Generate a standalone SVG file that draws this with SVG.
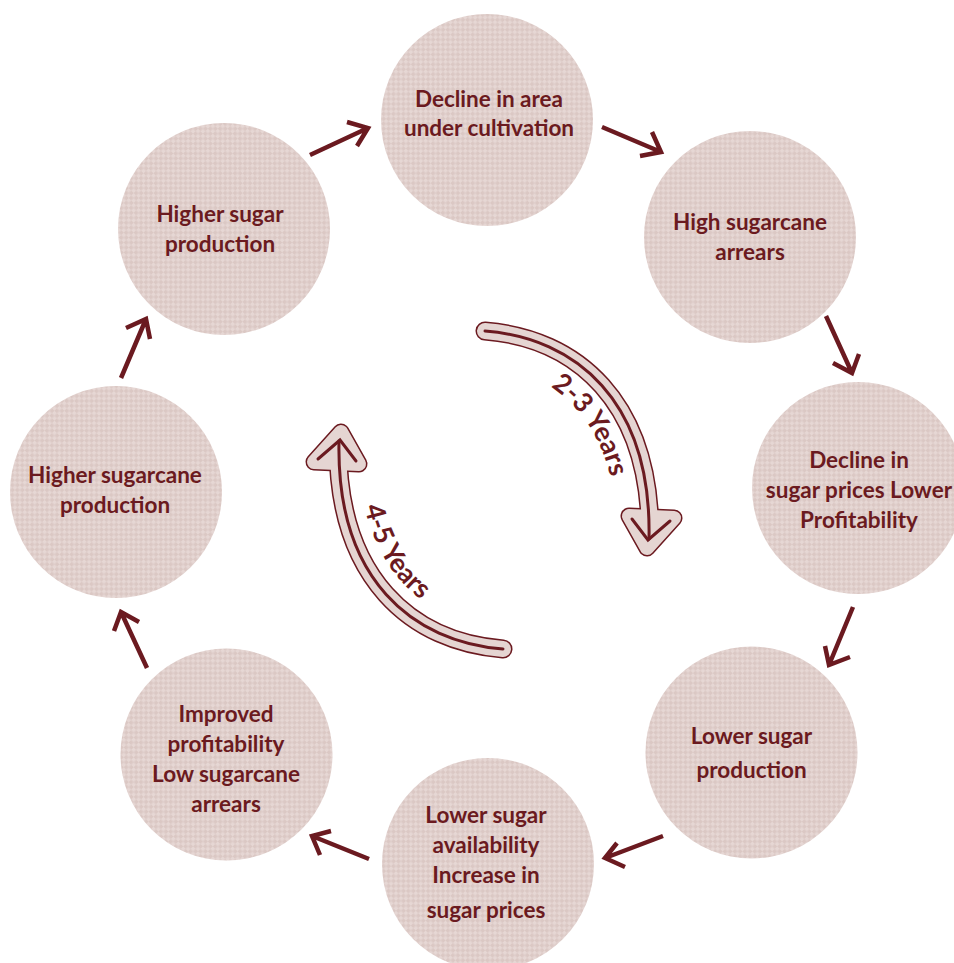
<svg xmlns="http://www.w3.org/2000/svg" xmlns:xlink="http://www.w3.org/1999/xlink" width="954" height="963" viewBox="0 0 954 963">
<style>
.node circle{fill:url(#checks);}
.lbl{font-family:Lato,"Liberation Sans",sans-serif;font-weight:700;font-size:22.5px;fill:#6b1a20;text-anchor:middle;}
.conn{fill:none;stroke:#6b1a20;stroke-width:4.5;stroke-linejoin:miter;stroke-linecap:butt;}
.band-o{fill:none;stroke:#6b1a20;stroke-width:19;stroke-linecap:round;}
.band-f{fill:none;stroke:#e5d5d2;stroke-width:16;stroke-linecap:round;}
.head-o{fill:#6b1a20;stroke:#6b1a20;stroke-width:17;stroke-linejoin:round;}
.head-f{fill:#e5d5d2;stroke:#e5d5d2;stroke-width:14;stroke-linejoin:round;}
.core{fill:none;stroke:#6b1a20;stroke-width:3;stroke-linecap:round;stroke-linejoin:miter;}
.yrs{font-family:Lato,"Liberation Sans",sans-serif;font-weight:700;font-size:27px;fill:#6b1a20;}
</style>
<defs>
<pattern id="checks" width="7" height="7" patternUnits="userSpaceOnUse" patternTransform="rotate(45)">
<rect width="7" height="7" fill="#dbc8c4"/>
<rect width="3.5" height="3.5" fill="#e6d7d4"/>
<rect x="3.5" y="3.5" width="3.5" height="3.5" fill="#e6d7d4"/>
</pattern>
<path id="tp1" d="M482.4,364 C556.2,369.7 618.6,424.7 617,539.5"/>
<path id="tp2" d="M358,440.3 C356.3,565 421.5,622.7 503,629"/>
<g id="bigarrow">
<path class="band-o" d="M485,331 C575,338 652,400 650,540"/>
<path class="head-o" d="M629,516 L674,518 L647,548 Z"/>
<path class="band-f" d="M485,331 C575,338 652,400 650,540"/>
<path class="head-f" d="M629,516 L674,518 L647,548 Z"/>
<path class="core" d="M485,331 C575,338 652,400 649,539"/>
<path class="core" d="M632,519 L648,540 L670,521"/>
</g>
</defs>

<g id="n1" class="node"><circle cx="487" cy="120" r="106"/>
<text class="lbl"><tspan x="489" y="106.5">Decline in area</tspan><tspan x="489" y="136">under cultivation</tspan></text></g>
<g id="n2" class="node"><circle cx="750" cy="237" r="106"/>
<text class="lbl"><tspan x="750" y="230">High sugarcane</tspan><tspan x="750" y="260">arrears</tspan></text></g>
<g id="n3" class="node"><circle cx="858" cy="488" r="106"/>
<text class="lbl"><tspan x="859" y="468">Decline in</tspan><tspan x="859" y="498">sugar prices Lower</tspan><tspan x="859" y="528">Profitability</tspan></text></g>
<g id="n4" class="node"><circle cx="751.5" cy="752.5" r="106"/>
<text class="lbl"><tspan x="751.5" y="744">Lower sugar</tspan><tspan x="751.5" y="778">production</tspan></text></g>
<g id="n5" class="node"><circle cx="488" cy="864" r="106"/>
<text class="lbl"><tspan x="486" y="823">Lower sugar</tspan><tspan x="486" y="853">availability</tspan><tspan x="486" y="883">Increase in</tspan><tspan x="486" y="918">sugar prices</tspan></text></g>
<g id="n6" class="node"><circle cx="226.5" cy="754.5" r="106"/>
<text class="lbl"><tspan x="226" y="721.5">Improved</tspan><tspan x="226" y="752">profitability</tspan><tspan x="226" y="781.5">Low sugarcane</tspan><tspan x="226" y="811.5">arrears</tspan></text></g>
<g id="n7" class="node"><circle cx="116" cy="492" r="106"/>
<text class="lbl"><tspan x="115" y="482.5">Higher sugarcane</tspan><tspan x="115" y="512.5">production</tspan></text></g>
<g id="n8" class="node"><circle cx="224" cy="229" r="106"/>
<text class="lbl"><tspan x="220" y="222">Higher sugar</tspan><tspan x="220" y="252">production</tspan></text></g>

<g id="connectors">
<path class="conn" d="M310,155 L368,128 M347,122 L368,128 L357,146"/>
<path class="conn" d="M602,127 L661,152 M652,132 L661,152 L640,156"/>
<path class="conn" d="M826,316 L852,373 M833,363 L852,373 L859,354"/>
<path class="conn" d="M853,607 L829,665 M825,646 L829,665 L850,657"/>
<path class="conn" d="M663,836 L605,858 M617,843 L605,858 L625,867"/>
<path class="conn" d="M369,859 L312,836 M331,831 L312,836 L320,855"/>
<path class="conn" d="M147,668 L121,612 M114,631 L121,612 L139,622"/>
<path class="conn" d="M121,378 L146,319 M126,328 L146,319 L150,339"/>
</g>

<g id="cycle-2-3">
<use xlink:href="#bigarrow" href="#bigarrow"/>
<text class="yrs"><textPath href="#tp1" xlink:href="#tp1" startOffset="52%" text-anchor="middle">2-3 Years</textPath></text>
</g>
<g id="cycle-4-5">
<use xlink:href="#bigarrow" href="#bigarrow" transform="rotate(180 494 490)"/>
<text class="yrs"><textPath href="#tp2" xlink:href="#tp2" startOffset="46%" text-anchor="middle">4-5 Years</textPath></text>
</g>
</svg>
